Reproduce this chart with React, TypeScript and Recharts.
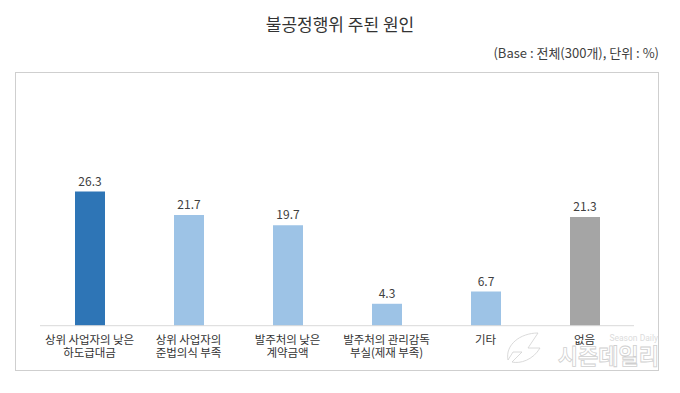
import { BarChart, Bar, XAxis, YAxis, Cell, LabelList } from 'recharts'

const categories = [
  '상위 사업자의 낮은\n하도급대금',
  '상위 사업자의\n준법의식 부족',
  '발주처의 낮은\n계약금액',
  '발주처의 관리감독\n부실(제재 부족)',
  '기타',
  '없음',
]
const values = [26.3, 21.7, 19.7, 4.3, 6.7, 21.3]
const barColors = ['#2E75B6', '#9DC3E6', '#9DC3E6', '#9DC3E6', '#9DC3E6', '#A5A5A5']

const data = categories.map((name, i) => ({ name, value: values[i] }))

const FONT = '"Noto Sans CJK KR", "Noto Sans", sans-serif'

function CategoryTick(props: any) {
  const { x, y, payload } = props
  const lines = String(payload.value).split('\n')
  return (
    <text x={x} y={y} textAnchor="middle" fill="#333" fontSize={11.5} letterSpacing={-0.1} fontFamily={FONT}>
      {lines.map((l, i) => (
        <tspan key={i} x={x} dy={i === 0 ? 10.5 : 12.5}>{l}</tspan>
      ))}
    </text>
  )
}

export default function App() {
  return (
    <div style={{ position: 'absolute', left: 0, top: 0, width: 680, height: 393, background: '#fff', fontFamily: FONT }}>
      <div style={{ position: 'absolute', left: 0, top: 12, width: 680, textAlign: 'center', fontSize: 17, color: '#333', lineHeight: '24px' }}>
        불공정행위 주된 원인
      </div>
      <div style={{ position: 'absolute', right: 21, top: 43, fontSize: 13, color: '#404040', lineHeight: '20px' }}>
        (Base : 전체(300개), 단위 : %)
      </div>
      <div style={{ position: 'absolute', left: 15, top: 72, width: 642, height: 297, border: '1.5px solid #cfcfcf' }} />
      <div style={{ position: 'absolute', left: 0, top: 0 }}>
        <BarChart
          width={680}
          height={393}
          data={data}
          margin={{ top: 172.7, right: 46, bottom: 7.3, left: 40 }}
          barCategoryGap={0}
        >
          <YAxis hide domain={[0, 30]} />
          <XAxis
            dataKey="name"
            interval={0}
            tickLine={false}
            axisLine={{ stroke: '#d9d9d9' }}
            tick={<CategoryTick />}
            height={60}
          />
          <Bar dataKey="value" barSize={30} isAnimationActive={false}>
            {data.map((d, i) => (
              <Cell key={d.name} fill={barColors[i]} />
            ))}
            <LabelList dataKey="value" position="top" offset={6} fill="#404040" fontSize={12} fontFamily={FONT} />
          </Bar>
        </BarChart>
      </div>
      <svg width={680} height={393} style={{ position: 'absolute', left: 0, top: 0, pointerEvents: 'none' }}>
        <text x={658} y={341} textAnchor="end" fontSize={8.5} fill="#dcdcdc" fontFamily="Roboto, sans-serif">Season Daily</text>
        <text x={659} y={364} textAnchor="end" fontSize={22} fill="#ffffff" stroke="#cfcfcf" strokeWidth={0.8} fontFamily={FONT} fontWeight={700}>시즌데일리</text>
        <path d="M 508 360 C 505 345, 520 333, 538 333 L 528 348 L 540 348 C 533 360, 520 364, 512 362 L 522 352 L 513 352 Z" fill="#ffffff" stroke="#d0d0d0" strokeWidth={0.8} />
      </svg>
    </div>
  )
}
